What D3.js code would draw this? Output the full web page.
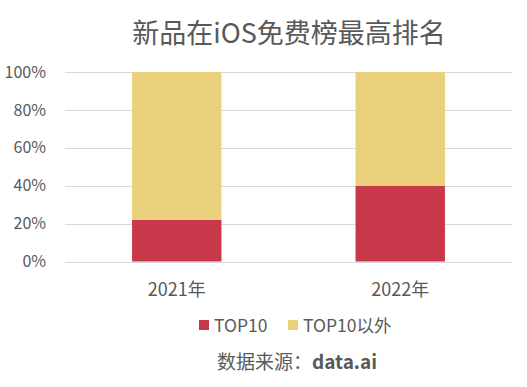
<!DOCTYPE html>
<html>
<head>
<meta charset="utf-8">
<script src="https://cdn.jsdelivr.net/npm/d3@7"></script>
<style>
  body { margin: 0; background: #fff; }
  text { font-family: "Microsoft YaHei", "Noto Sans CJK SC", "Noto Sans", sans-serif; fill: #595959; }
</style>
</head>
<body>
<div id="chart"></div>
<script>
const years = ['2021年', '2022年']
const top10 = [0.22, 0.40]
const others = [0.78, 0.60]
const seriesNames = ['TOP10', 'TOP10以外']
const colors = ['#C9384A', '#EBD07C']
const yTicks = [0, 0.2, 0.4, 0.6, 0.8, 1]

const width = 527
const height = 387
const margin = {left: 65, right: 15, top: 72, bottom: 126}

const svg = d3.select('#chart')
  .append('svg')
  .attr('width', width)
  .attr('height', height)

// title
svg.append('text')
   .attr('x', 289)
   .attr('y', 43)
   .attr('text-anchor', 'middle')
   .style('font-size', '27px')
   .text('新品在iOS免费榜最高排名')

const xScale = d3.scaleBand()
  .domain(years)
  .range([margin.left, width - margin.right])
  .paddingInner(0.6)
  .paddingOuter(0.3)

const yScale = d3.scaleLinear()
  .domain([0, 1])
  .range([height - margin.bottom + 0.5, margin.top])

// gridlines
svg.append('g')
   .selectAll('line')
   .data(yTicks)
   .enter()
   .append('line')
   .attr('x1', margin.left)
   .attr('x2', width - margin.right)
   .attr('y1', d => Math.round(yScale(d)) + 0.5)
   .attr('y2', d => Math.round(yScale(d)) + 0.5)
   .style('stroke', '#d9d9d9')
   .style('stroke-width', 1)

// y axis labels
const yAxis = d3.axisLeft(yScale)
  .tickValues(yTicks)
  .tickFormat(d3.format('.0%'))
  .tickSize(0)
  .tickPadding(19)

svg.append('g')
   .attr('transform', `translate(${margin.left}, 0)`)
   .call(yAxis)
   .call(g => g.select('.domain').remove())
   .selectAll('text')
   .style('font-size', '16px')
   .style('fill', '#595959')

// x axis labels
const xAxis = d3.axisBottom(xScale)
  .tickSize(0)
  .tickPadding(22)

svg.append('g')
   .attr('transform', `translate(0, ${yScale(0)})`)
   .call(xAxis)
   .call(g => g.select('.domain').remove())
   .selectAll('text')
   .style('font-size', '18px')
   .style('fill', '#595959')

// stacked bars
const rows = years.map((y, i) => ({year: y, TOP10: top10[i], 'TOP10以外': others[i]}))
const stacked = d3.stack().keys(seriesNames)(rows)

svg.selectAll('g.layer')
   .data(stacked)
   .enter()
   .append('g')
   .attr('class', 'layer')
   .style('fill', (d, i) => colors[i])
   .selectAll('rect')
   .data(d => d)
   .enter()
   .append('rect')
   .attr('x', d => xScale(d.data.year))
   .attr('width', xScale.bandwidth())
   .attr('y', d => yScale(d[1]))
   .attr('height', d => yScale(d[0]) - yScale(d[1]))

// legend
const legendX = [199, 288]
const legend = svg.append('g')
legend.selectAll('rect')
      .data(seriesNames)
      .enter()
      .append('rect')
      .attr('x', (d, i) => legendX[i])
      .attr('y', 320)
      .attr('width', 10)
      .attr('height', 10)
      .style('fill', (d, i) => colors[i])
legend.selectAll('text')
      .data(seriesNames)
      .enter()
      .append('text')
      .attr('x', (d, i) => legendX[i] + 15)
      .attr('y', 332)
      .style('font-size', '17.5px')
      .text(d => d)

// source
const src = svg.append('text')
   .attr('x', 297)
   .attr('y', 369)
   .attr('text-anchor', 'middle')
   .style('font-size', '19px')
src.append('tspan').text('数据来源：')
src.append('tspan').style('font-weight', 'bold').text('data.ai')
</script>
</body>
</html>
